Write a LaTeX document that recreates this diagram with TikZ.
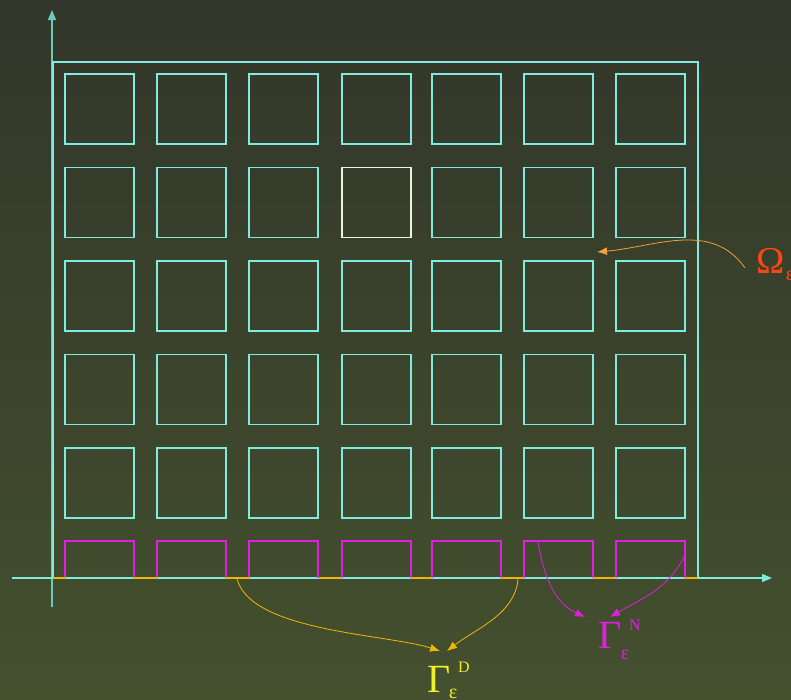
\documentclass[tikz,border=0pt]{standalone}
\usepackage{fontspec}
\setmainfont{Liberation Serif}
\usetikzlibrary{arrows.meta}
\definecolor{bgtop}{RGB}{50,54,42}
\definecolor{bgbot}{RGB}{68,80,46}
\definecolor{cellcol}{RGB}{128,236,222}
\definecolor{hicol}{RGB}{240,240,224}
\definecolor{bumpcol}{RGB}{226,30,226}
\definecolor{gapcol}{RGB}{240,184,0}
\definecolor{dlabel}{RGB}{240,240,40}
\definecolor{omegacol}{RGB}{255,70,20}
\definecolor{omegaarrow}{RGB}{240,160,64}
\newcommand{\bigsym}{\fontsize{40}{44}\selectfont}
\newcommand{\smallsym}{\fontsize{20}{22}\selectfont}

\begin{document}
\begin{tikzpicture}[x=1pt,y=-1pt,
  cell/.style={cellcol,line width=1.6pt},
  bump/.style={bumpcol,line width=1.6pt},
  gap/.style={gapcol,line width=1.6pt},
  pointer/.style={-{Latex[length=10pt,width=8pt]},line width=0.8pt},
  every node/.style={inner sep=0pt}]
  \useasboundingbox (0,0) rectangle (791,699);
  \shade[top color=bgtop,bottom color=bgbot] (0,0) rectangle (791,699);
  \draw[cellcol!85!black,line width=1.2pt,-{Triangle[length=10pt,width=8pt]}] (52,607) -- (52,10);
  \draw[cellcol,line width=1.2pt,-{Triangle[length=10pt,width=8pt]}] (12,578) -- (772,578);
  \draw[cell] (53,578) |- (698,62) -- (698,578);
  \foreach \col/\xl in {0/65,1/157,2/249,3/342,4/432,5/524,6/616}
    \foreach \row in {0,...,4}
      \draw[cell] (\xl,74+93.5*\row) rectangle ++(69,70);
  \draw[hicol,line width=1.6pt] (342,167.5) rectangle ++(69,70);
  \foreach \xl in {65,157,249,342,432,524,616}
    \draw[bump] (\xl,578) |- (\xl+69,541) -- (\xl+69,578);
  \foreach \xa/\xb in {53/65,134/157,226/249,319/342,411/432,501/524,593/616,685/698}
    \draw[gap] (\xa,578) -- (\xb,578);
  \node[anchor=base west,text=omegacol] (omega) at (756,273)
    {{\fontsize{38}{40}\selectfont Ω}\kern1.5pt\raisebox{-7pt}{\smallsym ε}};
  \node[anchor=base west,text=dlabel] (gammaD) at (427,692)
    {{\bigsym Γ}\kern-1.5pt\raisebox{-6pt}{\smallsym ε}\kern1pt\raisebox{20pt}{\fontsize{16}{18}\selectfont D}};
  \node[anchor=base west,text=bumpcol] (gammaN) at (598,648)
    {{\bigsym Γ}\kern-0.5pt\raisebox{-11pt}{\smallsym ε}\raisebox{18pt}{\fontsize{16}{18}\selectfont N}};
  \coordinate (omega-from) at (745,268);
  \coordinate (omega-to) at (597,252);
  \coordinate (gapD-left) at (237,579);
  \coordinate (gapD-right) at (518,579);
  \coordinate (bumpN-left) at (538,542);
  \coordinate (bumpN-right) at (686,553);
  \draw[pointer,omegaarrow] (omega-from) to[out=125,in=5] (omega-to);
  \draw[pointer,gapcol] (gapD-left) to[out=-75,in=162,looseness=0.65] ([shift={(13,-41)}]gammaD.base west);
  \draw[pointer,gapcol] (gapD-right) to[out=-95,in=38,looseness=0.9] ([shift={(20,-41)}]gammaD.base west);
  \draw[pointer,bumpcol] (bumpN-left) to[out=-80,in=155] ([shift={(-13,-31)}]gammaN.base west);
  \draw[pointer,bumpcol] (bumpN-right) to[out=-115,in=30] ([shift={(12,-31)}]gammaN.base west);
\end{tikzpicture}
\end{document}
